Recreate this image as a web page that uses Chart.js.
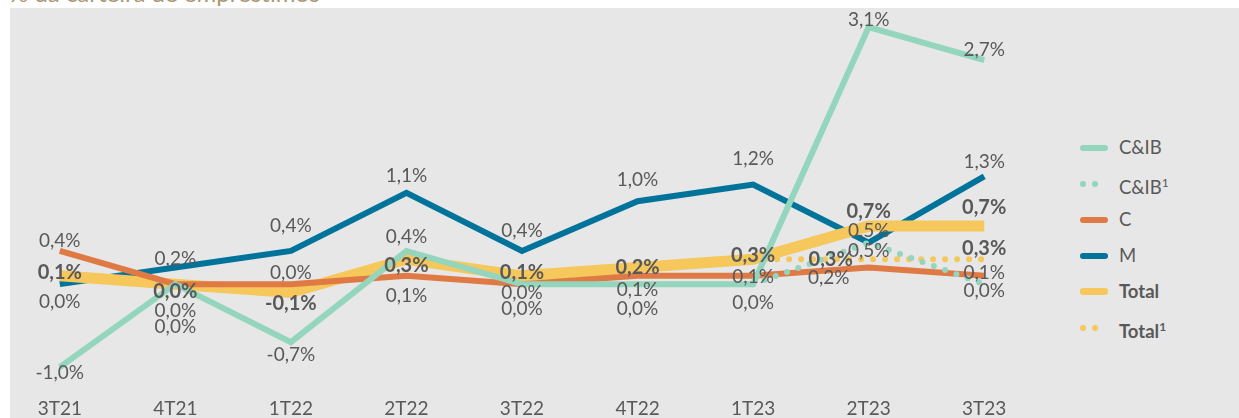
<!DOCTYPE html>
<html>
<head>
<meta charset="utf-8">
<script src="https://cdn.jsdelivr.net/npm/chart.js@4.4.0/dist/chart.umd.min.js"></script>
<style>
    body { margin: 0; width: 1239px; height: 418px; background: #fff; position: relative; overflow: hidden; font-family: Lato, 'Noto Sans', sans-serif; }
    #fundo { position: absolute; left: 10px; top: 8px; right: 0; bottom: 0; background: #e7e7e7; }
    #titulo { position: absolute; left: 9px; top: -22px; font-size: 24px; color: #ad9675; white-space: nowrap; }
    #grafico { position: absolute; left: 2px; top: 0; }
    #legenda { position: absolute; left: 1080px; top: 0; color: #595959; font-size: 18.5px; }
    .item { position: absolute; left: 0; height: 20px; white-space: nowrap; }
    .amostra { position: absolute; left: 0; top: 7px; width: 28px; height: 6px; border-radius: 3px; }
    .pontos { position: absolute; left: 0; top: 7px; }
    .pontos i { position: absolute; top: 0; width: 6px; height: 6px; border-radius: 3px; }
    .rotulo { position: absolute; left: 39px; top: -1px; line-height: 20px; }
    sup { font-size: 12px; vertical-align: 7px; }
</style>
</head>
<body>
<div id="fundo"></div>
<div id="titulo">% da carteira de empréstimos</div>
<canvas id="grafico" width="1040" height="418"></canvas>
<div id="legenda"></div>

<script>
const categorias = ['3T21', '4T21', '1T22', '2T22', '3T22', '4T22', '1T23', '2T23', '3T23'];
const cib    = [-1.0, 0.0, -0.7, 0.4, 0.0, 0.0, 0.0, 3.1, 2.7];
const cib1   = [null, null, null, null, null, null, 0.0, 0.5, 0.0];
const c      = [0.4, 0.0, 0.0, 0.1, 0.0, 0.1, 0.1, 0.2, 0.1];
const m      = [0.0, 0.2, 0.4, 1.1, 0.4, 1.0, 1.2, 0.5, 1.3];
const total  = [0.1, 0.0, -0.1, 0.3, 0.1, 0.2, 0.3, 0.7, 0.7];
const total1 = [null, null, null, null, null, null, 0.3, 0.3, 0.3];

const corCib = '#93d5bd';
const corC = '#e07a45';
const corM = '#00739b';
const corTotal = '#f6c75b';
const corTexto = '#595959';

// deslocamento dos rótulos (px) em relação ao ponto; null = sem rótulo
const series = [
    { label: 'C&IB¹', data: cib1, color: corCib, width: 6, dotted: true,
      dy: [null, null, null, null, null, null, null, 8, 7] },
    { label: 'C&IB', data: cib, color: corCib, width: 6,
      dy: [6, 43, 13, -14, 25, 25, 19, -7, -10] },
    { label: 'C', data: c, color: corC, width: 6,
      dy: [-10, 27, -11, 20, 9, 14, 1, 10, -3], dx: [0, 0, 0, 0, 0, 0, 0, -40, 0] },
    { label: 'Total¹', data: total1, color: corTotal, width: 6, dotted: true, bold: true,
      dy: [null, null, null, null, null, null, null, 0, -11], dx: [0, 0, 0, 0, 0, 0, 0, -38, 0] },
    { label: 'Total', data: total, color: corTotal, width: 11, bold: true,
      dy: [-3, 7, 11, 6, -3, 0, -4, -15, -19] },
    { label: 'M', data: m, color: corM, width: 6,
      dy: [18, -9, -25, -17, -20, -21, -26, -12, -14] }
];

function fmt(v) {
    return v.toFixed(1).replace('.', ',') + '%';
}

const rotulosPlugin = {
    id: 'rotulos',
    afterDatasetsDraw(chart) {
        const ctx = chart.ctx;
        ctx.save();
        ctx.textAlign = 'center';
        ctx.textBaseline = 'middle';
        ctx.fillStyle = corTexto;
        chart.data.datasets.forEach((ds, i) => {
            const meta = chart.getDatasetMeta(i);
            meta.data.forEach((pt, j) => {
                const v = ds.data[j];
                if (v === null || ds.dy[j] === null) return;
                const dx = ds.dx ? ds.dx[j] : 0;
                ctx.font = (ds.bold ? 'bold 20px ' : '19px ') + 'Lato, "Noto Sans", sans-serif';
                ctx.fillText(fmt(v), pt.x + dx, pt.y + ds.dy[j]);
            });
        });
        ctx.restore();
    }
};

new Chart(document.getElementById('grafico'), {
    type: 'line',
    data: {
        labels: categorias,
        datasets: series.map(s => ({
            label: s.label,
            data: s.data,
            borderColor: s.color,
            borderWidth: s.width,
            borderDash: s.dotted ? [0, 12] : [],
            borderCapStyle: s.dotted ? 'round' : 'butt',
            borderJoinStyle: 'miter',
            pointRadius: 0,
            tension: 0,
            fill: false,
            spanGaps: false,
            dy: s.dy,
            dx: s.dx,
            bold: s.bold
        }))
    },
    options: {
        responsive: false,
        devicePixelRatio: 1,
        animation: false,
        layout: { padding: { top: 5, bottom: -6, left: 0, right: 0 } },
        plugins: { legend: { display: false }, tooltip: { enabled: false } },
        scales: {
            x: {
                offset: true,
                grid: { display: false, drawTicks: false },
                border: { display: false },
                ticks: { color: corTexto, font: { family: 'Lato', size: 19 }, padding: 4 }
            },
            y: { display: false, min: -1.315, max: 3.366 }
        }
    },
    plugins: [rotulosPlugin]
});

// legenda
const itensLegenda = [
    { nome: 'C&IB', cor: corCib, tipo: 'linha' },
    { nome: 'C&IB<sup>1</sup>', cor: corCib, tipo: 'pontos' },
    { nome: 'C', cor: corC, tipo: 'linha' },
    { nome: 'M', cor: corM, tipo: 'linha' },
    { nome: '<b>Total</b>', cor: corTotal, tipo: 'linha', grossa: true },
    { nome: '<b>Total<sup>1</sup></b>', cor: corTotal, tipo: 'pontos' }
];
const legenda = document.getElementById('legenda');
let html = '';
itensLegenda.forEach((it, i) => {
    const top = 138 + i * 36;
    let amostra = '';
    if (it.tipo === 'linha') {
        amostra = `<div class="amostra" style="background:${it.cor};${it.grossa ? 'height:7px;top:6px;' : ''}"></div>`;
    } else {
        amostra = `<div class="pontos"><i style="left:0;background:${it.cor}"></i><i style="left:12px;background:${it.cor}"></i></div>`;
    }
    html += `<div class="item" style="top:${top}px">${amostra}<span class="rotulo">${it.nome}</span></div>`;
});
legenda.innerHTML = html;
</script>
</body>
</html>
